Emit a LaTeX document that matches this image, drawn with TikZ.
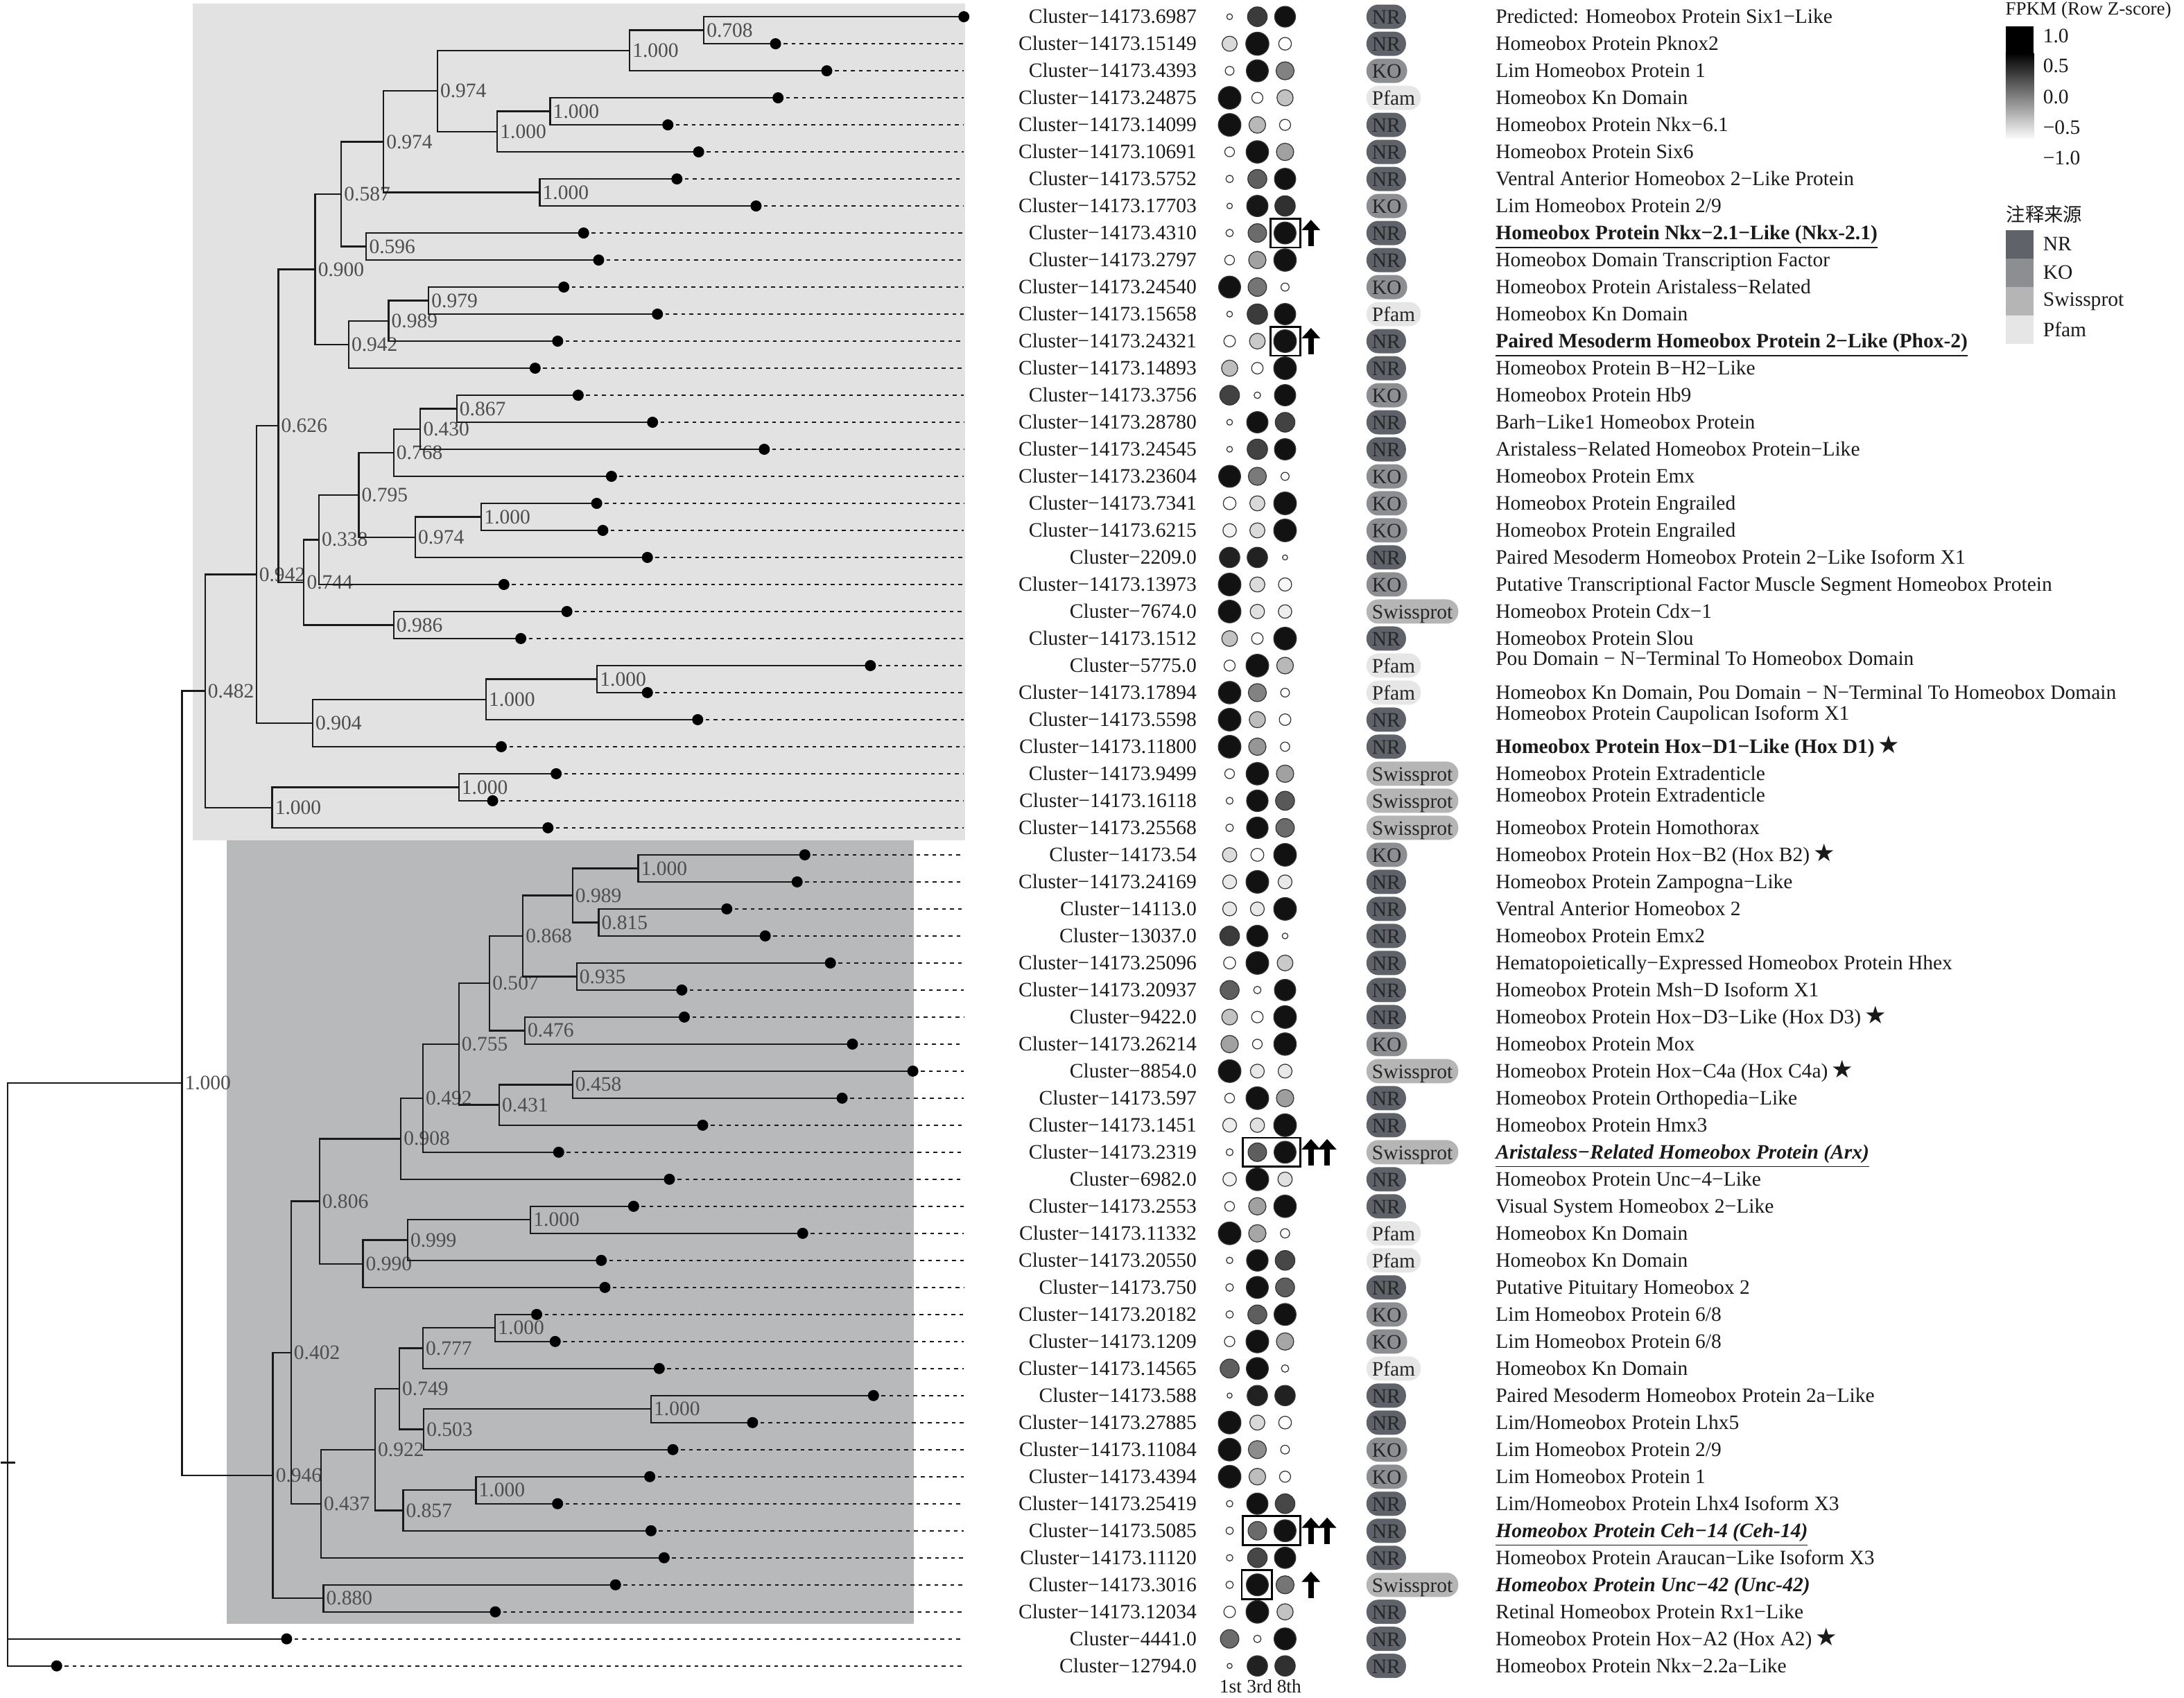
\documentclass[tikz,border=0pt]{standalone}
\usepackage{fontspec}
\setmainfont{Liberation Serif}
\newfontfamily\cjkfont{Noto Sans CJK SC}
\newfontfamily\symfont{DejaVu Sans}
\usetikzlibrary{arrows.meta}

\definecolor{NR}{HTML}{5F6269}
\definecolor{KO}{HTML}{8D8E92}
\definecolor{Swissprot}{HTML}{B5B5B5}
\definecolor{Pfam}{HTML}{E6E6E6}
\definecolor{cladeup}{HTML}{E2E2E2}
\definecolor{cladelow}{HTML}{B8B9BB}
\definecolor{bootgray}{HTML}{4D4D4D}
\definecolor{inkgray}{HTML}{1A1A1A}

\newcommand{\ry}[1]{12+(#1-1)*19.41}
\newcommand{\hstar}{\,{\symfont\fontsize{10}{10}\selectfont ★}}
\newcommand{\txtsize}{\fontsize{8.4}{10}\selectfont}

\tikzset{
  branch/.style={draw=inkgray, line width=0.65pt},
  leafdash/.style={draw=inkgray, line width=0.6pt, dash pattern=on 0.55mm off 0.6mm},
  tipdot/.style={fill=black},
  boot/.style={anchor=west, inner sep=0pt, xshift=0.35mm, font=\txtsize, text=bootgray},
  heat/.style={draw=black!80, line width=0.35pt},
  clname/.style={anchor=base east, inner sep=0pt, font=\txtsize, text=inkgray},
  desc/.style={anchor=base west, inner sep=0pt, font=\txtsize, text=inkgray},
  badge/.style={anchor=west, rounded corners=1.7mm, minimum height=3.5mm, minimum width=5.3mm,
    inner xsep=0.8mm, inner ysep=0pt, text height=1.6ex, text depth=0.3ex, font=\txtsize, text=black!85},
  dotbox/.style={draw=black, line width=0.8pt},
  uparrow/.style={draw=black, line width=0.8mm, -{Triangle[width=2.6mm,length=1.5mm]}},
  legtext/.style={anchor=west, inner sep=0pt, font=\txtsize, text=inkgray},
  colhead/.style={inner sep=0pt, font=\fontsize{7.8}{9}\selectfont, text=inkgray},
}

\begin{document}
\begin{tikzpicture}[x=0.2009mm, y=-0.2009mm]
\useasboundingbox (0,0) rectangle (1568,1219);

% clade backgrounds
\fill[cladeup] (138.4,2.5) rectangle (693,603.3);
\fill[cladelow] (163,603.5) rectangle (656,1166);

% leaf tips
\foreach \i/\tx in {1/692, 2/556.8, 3/593.6, 4/558.6, 5/479.5, 6/501.6, 7/486, 8/542.8,
  9/419, 10/429.8, 11/404.8, 12/472, 13/400.4, 14/384.2, 15/415.1, 16/468.5, 17/548.7,
  18/439, 19/428.4, 20/432.8, 21/464.8, 22/361.8, 23/407, 24/373.9, 25/624.9, 26/464.8,
  27/500.9, 28/359.9, 29/399.3, 30/353.7, 31/393.4, 32/577.8, 33/572.3, 34/521.8,
  35/549.4, 36/596.2, 37/489.5, 38/491.3, 39/612, 40/655.4, 41/604.6, 42/504.5,
  43/401.1, 44/480.6, 45/454.9, 46/576.3, 47/431.7, 48/434.3, 49/385.3, 50/398.6,
  51/473.3, 52/627.1, 53/540.3, 54/483.1, 55/466.5, 56/400.3, 57/467.4, 58/476.8,
  59/441.9, 60/355.6, 61/205.8, 62/40.7} {
  \coordinate (l\i) at (\tx,{\ry{\i}});
  \coordinate (e\i) at (692,{\ry{\i}});
}
\foreach \i in {2,...,62} \draw[leafdash] (l\i) -- (e\i);

% inner nodes with support values
\foreach \n/\x/\y/\b in {A/505.3/21.71/0.708, B/452/36.27/1.000, C/395/79.94/1.000,
  D/357/94.49/1.000, E/314/65.38/0.974, F/387.5/138.17/1.000, G/275.3/101.77/0.974,
  H/263/176.99/0.596, I/245/139.38/0.587, J/307.7/215.81/0.979, K/279/230.36/0.989,
  L/250.3/247.35/0.942, M/226.3/193.36/0.900, Na/327.9/293.45/0.867, Nb/301.8/308.0/0.430,
  Nc/282.6/324.99/0.768, Nd/345.6/371.09/1.000, Ne/298.1/385.64/0.974, Nf/257.6/355.31/0.795,
  Ng/228.9/387.46/0.338, Nh/282.6/448.73/0.986, Ni/218.2/418.09/0.744, Nj/199.8/305.73/0.626,
  Pa/428.7/487.55/1.000, Pb/348.9/502.1/1.000, Pc/224.5/519.09/0.904, Pd/184/412.41/0.942,
  Qa/329.4/565.19/1.000, Qb/195.4/579.74/1.000, R/147.2/496.08/0.482,
  Sa/458.2/623.42/1.000, Sb/429.8/662.24/0.815, Sc/411/642.83/0.989, Sd/414/701.06/0.935,
  Se/375.4/671.94/0.868, Sf/376.8/739.88/0.476, Sg/351.5/705.91/0.507, Sh/411/778.7/0.458,
  Si/358.4/793.25/0.431, Sj/329.4/749.58/0.755, Sk/303.6/788.4/0.492, Sl/287.8/817.52/0.908,
  Ta/380.9/875.75/1.000, Tb/292.6/890.3/0.999, Tc/260.6/907.29/0.990, Td/229.3/862.4/0.806,
  Ua/355.5/953.39/1.000, Ub/303.6/967.94/0.777, Uc/467.4/1011.62/1.000, Ud/304.2/1026.17/0.503,
  Ue/286.7/997.06/0.749, Uf/341.7/1069.85/1.000, Ug/289.4/1084.4/0.857, Uh/269.3/1040.73/0.922,
  Ui/230.4/1079.55/0.437, Va/208.9/970.98/0.402, Vb/232.2/1147.49/0.880, Vc/195.9/1059.23/0.946,
  W/130.6/777.66/1.000} {
  \coordinate (n\n) at (\x,\y);
  \node[boot] (b\n) at (n\n) {\b};
}
\coordinate (root) at (5.4,1050.1);

% branches
\foreach \p/\c in {nA/l1, nA/l2, nB/nA, nB/l3, nC/l4, nC/l5, nD/nC, nD/l6, nE/nB, nE/nD,
  nF/l7, nF/l8, nG/nE, nG/nF, nH/l9, nH/l10, nI/nG, nI/nH, nJ/l11, nJ/l12, nK/nJ, nK/l13,
  nL/nK, nL/l14, nM/nI, nM/nL, nNa/l15, nNa/l16, nNb/nNa, nNb/l17, nNc/nNb, nNc/l18,
  nNd/l19, nNd/l20, nNe/nNd, nNe/l21, nNf/nNc, nNf/nNe, nNg/nNf, nNg/l22, nNh/l23, nNh/l24,
  nNi/nNg, nNi/nNh, nNj/nM, nNj/nNi, nPa/l25, nPa/l26, nPb/nPa, nPb/l27, nPc/nPb, nPc/l28,
  nPd/nNj, nPd/nPc, nQa/l29, nQa/l30, nQb/nQa, nQb/l31, nR/nPd, nR/nQb,
  nSa/l32, nSa/l33, nSb/l34, nSb/l35, nSc/nSa, nSc/nSb, nSd/l36, nSd/l37, nSe/nSc, nSe/nSd,
  nSf/l38, nSf/l39, nSg/nSe, nSg/nSf, nSh/l40, nSh/l41, nSi/nSh, nSi/l42, nSj/nSg, nSj/nSi,
  nSk/nSj, nSk/l43, nSl/nSk, nSl/l44, nTa/l45, nTa/l46, nTb/nTa, nTb/l47, nTc/nTb, nTc/l48,
  nTd/nSl, nTd/nTc, nUa/l49, nUa/l50, nUb/nUa, nUb/l51, nUc/l52, nUc/l53, nUd/nUc, nUd/l54,
  nUe/nUb, nUe/nUd, nUf/l55, nUf/l56, nUg/nUf, nUg/l57, nUh/nUe, nUh/nUg, nUi/nUh, nUi/l58,
  nVa/nTd, nVa/nUi, nVb/l59, nVb/l60, nVc/nVa, nVc/nVb, nW/nR, nW/nVc,
  root/nW, root/l61, root/l62}
  \draw[branch] (\p) |- (\c);
\draw[branch] ([xshift=-1mm]root) -- ([xshift=1.1mm]root);

\foreach \i in {1,...,62} \fill[tipdot] (l\i) circle (0.8mm);

% heat map: shade / width for 1st, 3rd, 8th
\foreach \i/\pa/\wa/\pb/\wb/\pc/\wc in {1/0/25/77/85/93/90, 2/15/65/93/100/0/55,
  3/0/38/93/95/49/78, 4/93/98/0/48/24/70, 5/93/98/28/72/0/48, 6/0/42/93/97/37/75,
  7/0/32/63/82/93/92, 8/0/24/91/92/81/88, 9/0/32/58/80/93/95, 10/0/42/37/75/93/97,
  11/93/95/54/80/0/35, 12/0/25/77/88/93/92, 13/0/50/21/68/93/98, 14/26/70/0/50/93/98,
  15/74/85/0/28/93/92, 16/0/25/93/92/74/85, 17/0/25/74/88/93/92, 18/93/95/52/78/0/35,
  19/0/55/15/65/93/98, 20/5/58/14/65/93/98, 21/87/88/87/88/0/22, 22/93/98/14/65/3/57,
  23/93/98/12/62/7/58, 24/24/68/0/50/93/98, 25/0/48/93/98/28/72, 26/93/97/49/78/0/38,
  27/93/98/26/70/0/50, 28/93/98/41/75/0/40, 29/0/42/93/97/37/75, 30/0/30/93/93/65/82,
  31/0/33/93/93/58/80, 32/14/62/0/56/93/98, 33/9/60/93/98/9/60, 34/9/60/9/60/93/98,
  35/77/85/93/92/0/25, 36/0/52/93/98/21/68, 37/63/82/0/32/93/92, 38/24/68/0/50/93/98,
  39/37/75/0/42/93/97, 40/93/98/9/60/9/60, 41/0/42/93/98/38/75, 42/7/60/12/62/93/98,
  43/0/30/63/80/93/95, 44/5/58/93/98/12/62, 45/0/42/37/75/93/97, 46/93/98/35/75/0/40,
  47/0/28/93/93/72/85, 48/0/33/93/95/63/82, 49/0/32/63/82/93/95, 50/0/45/93/98/35/75,
  51/63/82/93/95/0/32, 52/0/22/87/88/87/88, 53/93/98/15/65/0/55, 54/93/98/45/78/0/38,
  55/93/98/26/72/0/48, 56/0/28/93/92/72/85, 57/0/32/58/80/93/95, 58/0/28/72/85/93/92,
  59/0/32/93/95/54/78, 60/0/50/93/98/24/70, 61/58/80/0/32/93/95, 62/0/22/87/88/81/88} {
  \filldraw[heat, fill=black!\pa] (882.8,{\ry{\i}}) circle ({\wa*0.083});
  \filldraw[heat, fill=black!\pb] (902.7,{\ry{\i}}) circle ({\wb*0.083});
  \filldraw[heat, fill=black!\pc] (922.6,{\ry{\i}}) circle ({\wc*0.083});
}

% marked up-regulated genes
\foreach \i/\xa/\xb in {9/912.3/933.4, 13/912.3/933.4, 43/892.3/933.4, 57/892.3/933.4, 59/891.5/913}
  \draw[dotbox] (\xa,{\ry{\i}-10.4}) rectangle (\xb,{\ry{\i}+10.4});
\foreach \i/\x in {9/941.2, 13/941.2, 43/941.2, 43/952.8, 57/941.2, 57/952.8, 59/941.2}
  \draw[uparrow] (\x,{\ry{\i}+9.5}) -- (\x,{\ry{\i}-9.5});

\node[colhead] (h1) at (883.5,1210.7) {1st};
\node[colhead] (h3) at (904.3,1210.7) {3rd};
\node[colhead] (h8) at (925.5,1210.7) {8th};

% cluster, annotation source, annotation
\foreach \i/\cl/\src/\dy/\txt in {
  1/14173.6987/NR/0/{Predicted: Homeobox Protein Six1−Like},
  2/14173.15149/NR/0/{Homeobox Protein Pknox2},
  3/14173.4393/KO/0/{Lim Homeobox Protein 1},
  4/14173.24875/Pfam/0/{Homeobox Kn Domain},
  5/14173.14099/NR/0/{Homeobox Protein Nkx−6.1},
  6/14173.10691/NR/0/{Homeobox Protein Six6},
  7/14173.5752/NR/0/{Ventral Anterior Homeobox 2−Like Protein},
  8/14173.17703/KO/0/{Lim Homeobox Protein 2/9},
  9/14173.4310/NR/0/{{\bfseries\underline{Homeobox Protein Nkx−2.1−Like (Nkx-2.1)}}},
  10/14173.2797/NR/0/{Homeobox Domain Transcription Factor},
  11/14173.24540/KO/0/{Homeobox Protein Aristaless−Related},
  12/14173.15658/Pfam/0/{Homeobox Kn Domain},
  13/14173.24321/NR/0/{{\bfseries\underline{Paired Mesoderm Homeobox Protein 2−Like (Phox-2)}}},
  14/14173.14893/NR/0/{Homeobox Protein B−H2−Like},
  15/14173.3756/KO/0/{Homeobox Protein Hb9},
  16/14173.28780/NR/0/{Barh−Like1 Homeobox Protein},
  17/14173.24545/NR/0/{Aristaless−Related Homeobox Protein−Like},
  18/14173.23604/KO/0/{Homeobox Protein Emx},
  19/14173.7341/KO/0/{Homeobox Protein Engrailed},
  20/14173.6215/KO/0/{Homeobox Protein Engrailed},
  21/2209.0/NR/0/{Paired Mesoderm Homeobox Protein 2−Like Isoform X1},
  22/14173.13973/KO/0/{Putative Transcriptional Factor Muscle Segment Homeobox Protein},
  23/7674.0/Swissprot/0/{Homeobox Protein Cdx−1},
  24/14173.1512/NR/0/{Homeobox Protein Slou},
  25/5775.0/Pfam/-5/{Pou Domain − N−Terminal To Homeobox Domain},
  26/14173.17894/Pfam/0/{Homeobox Kn Domain, Pou Domain − N−Terminal To Homeobox Domain},
  27/14173.5598/NR/-4.5/{Homeobox Protein Caupolican Isoform X1},
  28/14173.11800/NR/0/{{\bfseries Homeobox Protein Hox−D1−Like (Hox D1)}\hstar},
  29/14173.9499/Swissprot/0/{Homeobox Protein Extradenticle},
  30/14173.16118/Swissprot/-4/{Homeobox Protein Extradenticle},
  31/14173.25568/Swissprot/0/{Homeobox Protein Homothorax},
  32/14173.54/KO/0/{Homeobox Protein Hox−B2 (Hox B2)\hstar},
  33/14173.24169/NR/0/{Homeobox Protein Zampogna−Like},
  34/14113.0/NR/0/{Ventral Anterior Homeobox 2},
  35/13037.0/NR/0/{Homeobox Protein Emx2},
  36/14173.25096/NR/0/{Hematopoietically−Expressed Homeobox Protein Hhex},
  37/14173.20937/NR/0/{Homeobox Protein Msh−D Isoform X1},
  38/9422.0/NR/0/{Homeobox Protein Hox−D3−Like (Hox D3)\hstar},
  39/14173.26214/KO/0/{Homeobox Protein Mox},
  40/8854.0/Swissprot/0/{Homeobox Protein Hox−C4a (Hox C4a)\hstar},
  41/14173.597/NR/0/{Homeobox Protein Orthopedia−Like},
  42/14173.1451/NR/0/{Homeobox Protein Hmx3},
  43/14173.2319/Swissprot/0/{{\bfseries\itshape\underline{Aristaless−Related Homeobox Protein (Arx)}}},
  44/6982.0/NR/0/{Homeobox Protein Unc−4−Like},
  45/14173.2553/NR/0/{Visual System Homeobox 2−Like},
  46/14173.11332/Pfam/0/{Homeobox Kn Domain},
  47/14173.20550/Pfam/0/{Homeobox Kn Domain},
  48/14173.750/NR/0/{Putative Pituitary Homeobox 2},
  49/14173.20182/KO/0/{Lim Homeobox Protein 6/8},
  50/14173.1209/KO/0/{Lim Homeobox Protein 6/8},
  51/14173.14565/Pfam/0/{Homeobox Kn Domain},
  52/14173.588/NR/0/{Paired Mesoderm Homeobox Protein 2a−Like},
  53/14173.27885/NR/0/{Lim/Homeobox Protein Lhx5},
  54/14173.11084/KO/0/{Lim Homeobox Protein 2/9},
  55/14173.4394/KO/0/{Lim Homeobox Protein 1},
  56/14173.25419/NR/0/{Lim/Homeobox Protein Lhx4 Isoform X3},
  57/14173.5085/NR/0/{{\bfseries\itshape\underline{Homeobox Protein Ceh−14 (Ceh-14)}}},
  58/14173.11120/NR/0/{Homeobox Protein Araucan−Like Isoform X3},
  59/14173.3016/Swissprot/0/{{\bfseries\itshape Homeobox Protein Unc−42 (Unc-42)}},
  60/14173.12034/NR/0/{Retinal Homeobox Protein Rx1−Like},
  61/4441.0/NR/0/{Homeobox Protein Hox−A2 (Hox A2)\hstar},
  62/12794.0/NR/0/{Homeobox Protein Nkx−2.2a−Like}} {
  \node[clname] (k\i) at (859.5,{\ry{\i}+4.8}) {Cluster−\cl};
  \node[badge, fill=\src] (s\i) at (980.7,{\ry{\i}}) {\src};
  \node[desc] (d\i) at (1073.5,{\ry{\i}+4.8+\dy}) {\txt};
}

% legend: heat scale
\node[legtext, font=\fontsize{7.7}{9}\selectfont] (legT) at (1439.5,7.5) {FPKM (Row Z-score)};
\fill[black] (1440,19.1) rectangle (1460.2,38.5);
\shade[top color=black, bottom color=white] (1440,38) rectangle (1460.2,100.4);
\foreach \v/\y [count=\k] in {1.0/25.7, 0.5/47.3, 0.0/69.4, −0.5/91.3, −1.0/113.3}
  \node[legtext] (z\k) at (1466.5,\y) {\v};

% legend: annotation source
\node[legtext, font=\cjkfont\fontsize{7.8}{9}\selectfont] (legS) at (1440,154) {注释来源};
\foreach \s/\y in {NR/175.3, KO/195.8, Swissprot/216.3, Pfam/236.5} {
  \fill[\s] (1440,\y-10.2) rectangle (1460.2,\y+10.2);
  \node[legtext] (g\s) at (1466.5,\y) {\s};
}
\end{tikzpicture}
\end{document}
